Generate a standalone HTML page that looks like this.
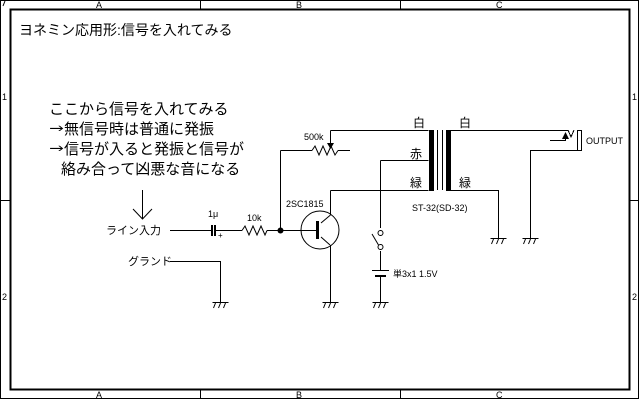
<!DOCTYPE html>
<html><head><meta charset="utf-8"><style>
html,body{margin:0;padding:0;background:#fff;}
svg{display:block;}
text{font-family:"Liberation Sans","Noto Sans CJK JP",sans-serif;fill:#000;}
.cjk{font-family:"Noto Sans CJK JP",sans-serif;}
.ar{font-family:"WenQuanYi Zen Hei","IPAGothic",sans-serif;}
</style></head><body>
<svg width="640" height="400" viewBox="0 0 640 400" xmlns="http://www.w3.org/2000/svg">
<g fill="none" stroke="#000" stroke-width="1" shape-rendering="crispEdges">
<rect x="0.5" y="0.5" width="638" height="398"/>
<rect x="10.5" y="9.5" width="619" height="380" stroke-width="2"/>
<line x1="200.5" y1="0" x2="200.5" y2="9"/><line x1="400.5" y1="0" x2="400.5" y2="9"/>
<line x1="200.5" y1="390" x2="200.5" y2="399"/><line x1="400.5" y1="390" x2="400.5" y2="399"/>
<line x1="0" y1="200.5" x2="10" y2="200.5"/><line x1="630" y1="200.5" x2="639" y2="200.5"/>
<path d="M330.5 130.5H428.5 M330.5 130.5V146"/>
<path d="M280.5 150.5H312 M338 150.5H350"/>
<path d="M280.5 150.5V230.5"/>
<path d="M380.5 160.5H428.5 M380.5 160.5V228"/>
<path d="M330.5 190.5H428.5 M330.5 190.5V215"/>
<path d="M170 230.5H211 M216 230.5H242 M267 230.5H316"/>
<path d="M170 261.5H220.5V302"/>
<path d="M330.5 245V302"/>
<path d="M380.5 251V270 M380.5 277V302"/>
<path d="M451 130.5H568 M451 190.5H498.5V238"/>
<path d="M581 150.5H530.5V238"/>
<path d="M550 140.5H565.5V134"/>
<path d="M568 130L571 137L574 130"/>
<rect x="577.5" y="130.5" width="4" height="20"/>
<line x1="437.5" y1="130" x2="437.5" y2="190"/>
<line x1="442.5" y1="130" x2="442.5" y2="190"/>
</g>
<g fill="none" stroke="#000" stroke-width="1">
<polyline points="312,150.5 315,146 319,155 323,146 327,155 331,146 335,155 338,150.5"/>
<polyline points="242,230.5 245,226 249,235 253,226 257,235 261,226 265,235 267,230.5"/>
<circle cx="320" cy="230" r="19"/>
<path d="M321 223L330.5 215 M321 237L330 245"/>
<circle cx="380.5" cy="233" r="2.5"/><circle cx="380.5" cy="247" r="2.5"/>
<path d="M378.5 245L372 234"/>
<path d="M142.5 190V219 M133 209L142.5 219L152 209"/>
<g id="g1"><path d="M-8 0.5H8 M-5 1L-7 6 M0 1L-2 6 M5 1L3 6"/></g>
</g>
<g stroke="#000" stroke-width="1" fill="none">
<use href="#g1" x="220.5" y="302"/>
<use href="#g1" x="330.5" y="302"/>
<use href="#g1" x="380.5" y="302"/>
<use href="#g1" x="498.5" y="238"/>
<use href="#g1" x="530.5" y="238"/>
</g>
<g fill="#000" stroke="none">
<rect x="429" y="130" width="5" height="61"/>
<rect x="446" y="130" width="5" height="61"/>
<rect x="316" y="221" width="3" height="18"/>
<rect x="211" y="225" width="2" height="11"/><rect x="214" y="225" width="2" height="11"/>
<rect x="372" y="270" width="17" height="1"/><rect x="375" y="275" width="11" height="2"/>
<circle cx="280.5" cy="230.5" r="3"/>
<polygon points="327,143 334,143 330.5,149"/>
<polygon points="562,139 569,139 565.5,132"/>
</g>
<g font-size="9">
<text x="96" y="8">A</text><text x="296" y="8">B</text><text x="496" y="8">C</text>
<text x="96" y="398">A</text><text x="296" y="398">B</text><text x="496" y="398">C</text>
<text x="2" y="100">1</text><text x="2" y="300">2</text>
<text x="632" y="100">1</text><text x="632" y="300">2</text>
<text x="208" y="217">1μ</text><text x="218" y="238" font-size="8">+</text>
<text x="247" y="221">10k</text>
<text x="286" y="207">2SC1815</text>
<text x="304" y="140">500k</text>
<text x="412" y="211">ST-32(SD-32)</text>
<text x="393" y="277">単3x1 1.5V</text>
<text x="586" y="144">OUTPUT</text>
</g>
<g font-size="12">
<text x="413" y="127">白</text><text x="459" y="127">白</text>
<text x="410" y="158">赤</text>
<text x="410" y="187">緑</text><text x="459" y="187">緑</text>
</g>
<g font-size="11">
<text x="106" y="234">ライン入力</text>
<text x="128" y="265">グランド</text>
</g>
<text x="19" y="35" font-size="14">ヨネミン応用形:信号を入れてみる</text>
<g font-size="15" class="cjk">
<text x="49" y="114">ここから信号を入れてみる</text>
<text x="49" y="134"><tspan class="ar">→</tspan><tspan x="64">無信号時は普通に発振</tspan></text>
<text x="49" y="154"><tspan class="ar">→</tspan><tspan x="64">信号が入ると発振と信号が</tspan></text>
<text x="61" y="174">絡み合って凶悪な音になる</text>
</g>
</svg>
</body></html>
